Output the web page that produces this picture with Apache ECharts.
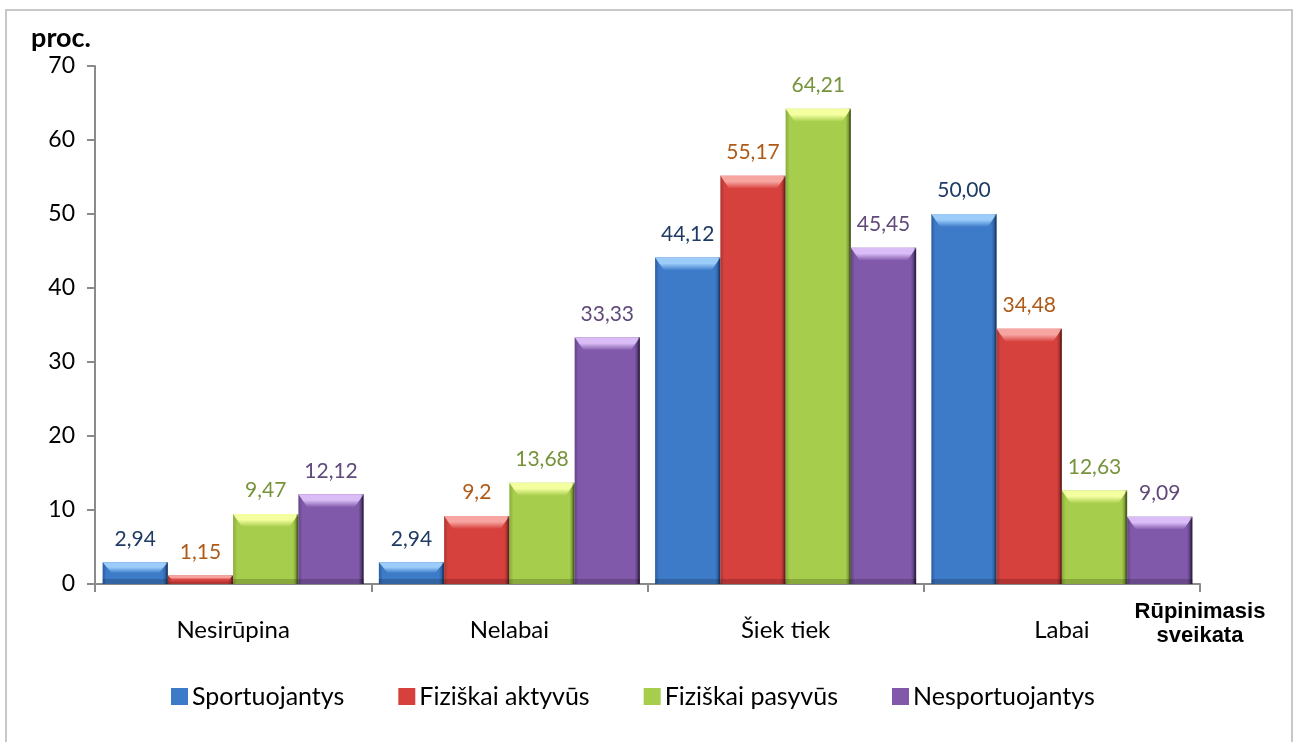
<!DOCTYPE html>
<html>
<head>
<meta charset="utf-8">
<script src="https://cdn.jsdelivr.net/npm/echarts@6/dist/echarts.min.js"></script>
<style>
html,body{margin:0;padding:0;background:#fff;}
#chart{width:1299px;height:742px;}
</style>
</head>
<body>
<div id="chart"></div>
<script>
const categories = ['Nesirūpina', 'Nelabai', 'Šiek tiek', 'Labai'];
const seriesNames = ['Sportuojantys', 'Fiziškai aktyvūs', 'Fiziškai pasyvūs', 'Nesportuojantys'];
const sportuojantys = [2.94, 2.94, 44.12, 50.00];
const fiziskaiAktyvus = [1.15, 9.2, 55.17, 34.48];
const fiziskaiPasyvus = [9.47, 13.68, 64.21, 12.63];
const nesportuojantys = [12.12, 33.33, 45.45, 9.09];
const sportuojantysLabels = ['2,94', '2,94', '44,12', '50,00'];
const fiziskaiAktyvusLabels = ['1,15', '9,2', '55,17', '34,48'];
const fiziskaiPasyvusLabels = ['9,47', '13,68', '64,21', '12,63'];
const nesportuojantysLabels = ['12,12', '33,33', '45,45', '9,09'];
const yTicks = [0, 10, 20, 30, 40, 50, 60, 70];

const FONT = 'Lato, "Open Sans", sans-serif';
const CAT_GAP = 0.055;
const palettes = [
  {light:'#9ccdfa', main:'#3d7bc9', dark:'#2c5d9e', edge:'#234d84', label:'#1f3b64'},
  {light:'#f7a5a1', main:'#d7413d', dark:'#a93431', edge:'#862724', label:'#b05a17'},
  {light:'#f4ffa0', main:'#a6cd4c', dark:'#87aa3b', edge:'#5c7624', label:'#77933c'},
  {light:'#dabcf6', main:'#8059aa', dark:'#634487', edge:'#3d2956', label:'#604a7b'}
];
const dataSets = [sportuojantys, fiziskaiAktyvus, fiziskaiPasyvus, nesportuojantys];
const labelSets = [sportuojantysLabels, fiziskaiAktyvusLabels, fiziskaiPasyvusLabels, nesportuojantysLabels];

function barColor(p){
  return new echarts.graphic.LinearGradient(0,0,1,0,[
    {offset:0, color:p.dark},
    {offset:0.06, color:p.main},
    {offset:0.92, color:p.main},
    {offset:1, color:p.edge}
  ]);
}

const barSeries = dataSets.map((d, i) => ({
  name: seriesNames[i],
  type: 'bar',
  data: d,
  barGap: '0%',
  barCategoryGap: (CAT_GAP*100) + '%',
  itemStyle: { color: barColor(palettes[i]) },
  label: {
    show: true,
    position: 'top',
    distance: 13,
    color: palettes[i].label,
    fontFamily: FONT,
    fontSize: 21,
    formatter: (p) => labelSets[i][p.dataIndex]
  },
  z: 2
}));

// bevel highlights, positioned through the axis scales
const bevelData = [];
dataSets.forEach((d, si) => d.forEach((v, ci) => bevelData.push([ci, v, si])));
const bevelSeries = {
  type: 'custom',
  silent: true,
  z: 3,
  data: bevelData,
  encode: { x: 0, y: 1 },
  renderItem: function (params, api) {
    const cat = api.value(0), val = api.value(1), si = api.value(2);
    const base = api.coord([cat, 0]);
    const top = api.coord([cat, val]);
    const band = api.size([1, 0])[0];
    const gw = band * (1 - CAT_GAP);
    const bw = gw / dataSets.length;
    const x = base[0] - gw / 2 + si * bw;
    const y = top[1];
    const h = base[1] - top[1];
    const p = palettes[si];
    const t = Math.min(13, h * 0.5);
    const inset = Math.min(9, t);
    return {
      type: 'group',
      children: [
        { type: 'polygon',
          shape: { points: [[x, y], [x + bw, y], [x + bw - inset, y + t], [x + inset, y + t]] },
          style: { fill: new echarts.graphic.LinearGradient(0,0,0,1,[
            {offset:0, color:p.light}, {offset:0.45, color:p.light}, {offset:1, color:p.main}]) } },
        { type: 'rect', shape: { x: x, y: base[1] - Math.min(5, h*0.3), width: bw, height: Math.min(5, h*0.3) },
          style: { fill: 'rgba(0,0,0,0.18)' } },
        { type: 'rect', shape: { x: x + bw - 2, y: y, width: 2, height: h },
          style: { fill: 'rgba(0,0,0,0.25)' } }
      ]
    };
  }
};

const chart = echarts.init(document.getElementById('chart'), null, {renderer:'canvas'});
chart.setOption({
  animation: false,
  backgroundColor: '#fff',
  grid: { left: 95, right: 99, top: 66, bottom: 158, containLabel: false },
  legend: {
    bottom: 28,
    left: 166,
    itemWidth: 17,
    itemHeight: 17,
    itemGap: 54,
    icon: 'rect',
    textStyle: { fontFamily: FONT, fontSize: 25, color: '#000', padding: [0,0,0,-1] },
    data: seriesNames.map((n, i) => ({ name: n, itemStyle: { color: palettes[i].main } }))
  },
  xAxis: {
    type: 'category',
    data: categories,
    axisLine: { lineStyle: { color: '#8a8a8a', width: 2 } },
    axisTick: { show: true, length: 8, lineStyle: { color: '#8a8a8a', width: 2 } },
    axisLabel: { color: '#000', fontFamily: FONT, fontSize: 24, margin: 34 }
  },
  yAxis: {
    type: 'value',
    min: 0, max: 70, interval: 10,
    name: 'proc.',
    nameLocation: 'end',
    nameGap: 14,
    nameTextStyle: { fontFamily: FONT, fontSize: 27, fontWeight: 'bold', color: '#000', align: 'right', padding: [0, 4, 0, 0] },
    splitLine: { show: false },
    axisLine: { show: true, lineStyle: { color: '#8a8a8a', width: 2 } },
    axisTick: { show: true, length: 8, lineStyle: { color: '#8a8a8a', width: 2 } },
    axisLabel: { color: '#000', fontFamily: FONT, fontSize: 23, margin: 20,
      formatter: (v) => yTicks.includes(v) ? String(v) : '' }
  },
  graphic: [
    { type: 'rect', shape: { x: 6, y: 10, width: 1286, height: 740 }, style: { fill: 'none', stroke: '#c8c8c8', lineWidth: 2 }, silent: true, z: -1 },
    { type: 'text', x: 1200, y: 600, style: { text: 'Rūpinimasis\nsveikata', font: 'bold 22px "Liberation Sans", Arial, sans-serif', fill: '#000', align: 'center', verticalAlign: 'top', lineHeight: 24 } }
  ],
  series: barSeries.concat([bevelSeries])
});
</script>
</body>
</html>
